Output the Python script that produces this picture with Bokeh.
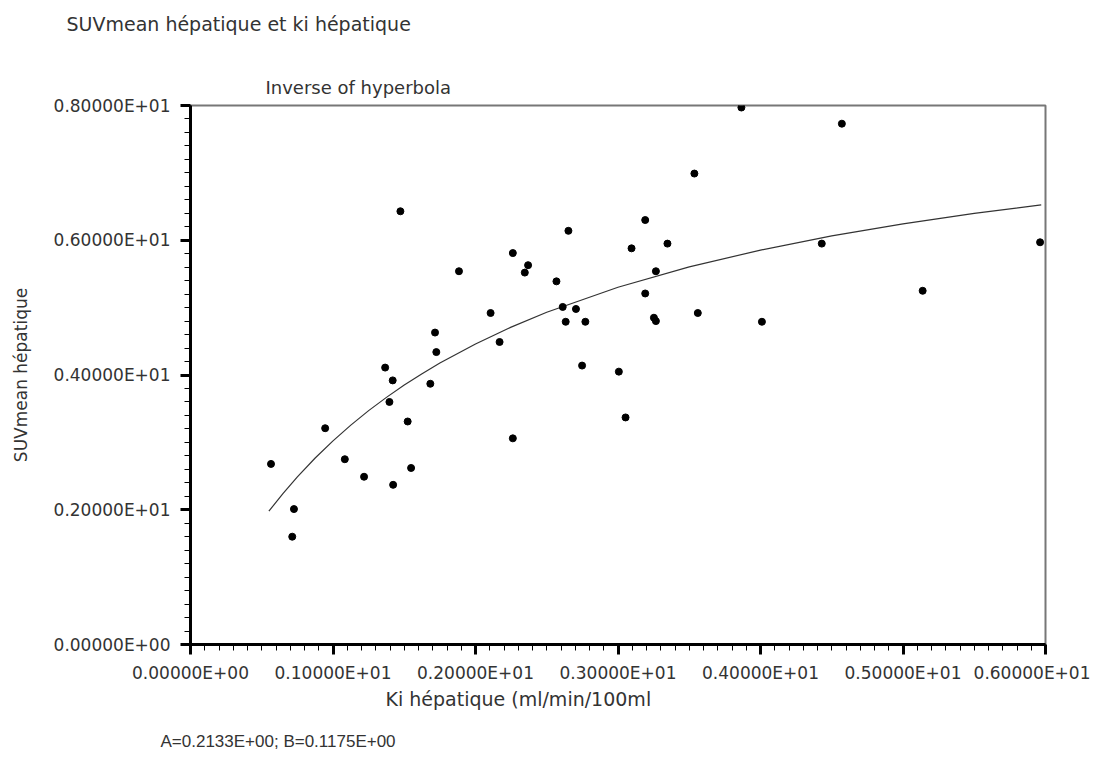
from bokeh.plotting import figure
from bokeh.models import Title, FixedTicker, Range1d
from bokeh.embed import file_html
from bokeh.resources import INLINE

# ---- data ----
ki = [1.473, 2.652, 2.262, 2.369, 2.346, 1.884, 2.568, 2.612, 2.705, 2.633,
      2.771, 2.106, 1.716, 2.169, 1.725, 1.366, 1.419, 1.683, 2.748, 3.006,
      3.866, 4.571, 3.536, 3.191, 3.095, 3.347, 3.266, 3.191, 3.252, 3.266,
      3.560, 4.010, 4.430, 5.138, 5.962, 1.396, 1.524, 0.945, 0.565, 1.083,
      1.218, 1.548, 1.422, 0.726, 0.714, 2.262, 3.053]
suv = [6.43, 6.14, 5.81, 5.63, 5.52, 5.54, 5.39, 5.01, 4.98, 4.79,
       4.79, 4.92, 4.63, 4.49, 4.34, 4.11, 3.92, 3.87, 4.14, 4.05,
       7.97, 7.73, 6.99, 6.30, 5.88, 5.95, 5.54, 5.21, 4.85, 4.80,
       4.92, 4.79, 5.95, 5.25, 5.97, 3.60, 3.31, 3.21, 2.68, 2.75,
       2.49, 2.62, 2.37, 2.01, 1.60, 3.06, 3.37]

# fitted curve ("Inverse of hyperbola", A=0.2133, B=0.1175)
fit_x = [0.55, 0.65, 0.75, 0.875, 1.0, 1.125, 1.25, 1.375, 1.5, 1.625, 1.75,
         2.0, 2.25, 2.5, 3.0, 3.5, 4.0, 4.5, 5.0, 5.5, 5.97]
fit_y = [1.979, 2.244, 2.488, 2.768, 3.023, 3.256, 3.471, 3.668, 3.851, 4.020, 4.177,
         4.461, 4.710, 4.931, 5.302, 5.604, 5.854, 6.064, 6.244, 6.399, 6.526]

x_ticks = [0, 1, 2, 3, 4, 5, 6]
x_tick_labels = ["0.00000E+00", "0.10000E+01", "0.20000E+01", "0.30000E+01",
                 "0.40000E+01", "0.50000E+01", "0.60000E+01"]
y_ticks = [0, 2, 4, 6, 8]
y_tick_labels = ["0.00000E+00", "0.20000E+01", "0.40000E+01", "0.60000E+01",
                 "0.80000E+01"]
x_minor = [i / 10 for i in range(0, 61)]
y_minor = [i / 5 for i in range(0, 41)]

title_text = "SUVmean hépatique et ki hépatique"
subtitle_text = "Inverse of hyperbola"
x_label_text = "Ki hépatique (ml/min/100ml"
y_label_text = "SUVmean hépatique"
params_text = "A=0.2133E+00;  B=0.1175E+00"

TXT = "#333333"
FONT = "DejaVu Sans"

p = figure(width=1090, height=770, output_backend="svg", toolbar_location=None,
           x_range=Range1d(0, 6), y_range=Range1d(0, 8),
           min_border_left=190, min_border_right=45, min_border_top=105,
           min_border_bottom=125)
p.background_fill_color = "white"
p.border_fill_color = "white"
p.grid.visible = False
p.outline_line_color = "#777777"
p.outline_line_width = 2

for ax in (p.xaxis[0], p.yaxis[0]):
    ax.axis_line_color = "black"
    ax.axis_line_width = 3
    ax.major_tick_line_color = "black"
    ax.major_tick_line_width = 3
    ax.minor_tick_line_color = "black"
    ax.minor_tick_line_width = 1
    ax.major_tick_in = 0
    ax.major_tick_out = 10
    ax.minor_tick_in = 0
    ax.minor_tick_out = 6
    ax.major_label_text_font = FONT
    ax.major_label_text_font_size = "17px"
    ax.major_label_text_color = TXT

p.xaxis[0].ticker = FixedTicker(ticks=x_ticks, minor_ticks=x_minor)
p.xaxis[0].major_label_overrides = {t: s for t, s in zip(x_ticks, x_tick_labels)}
p.xaxis[0].major_label_standoff = 8

p.yaxis[0].ticker = FixedTicker(ticks=y_ticks, minor_ticks=y_minor)
p.yaxis[0].major_label_overrides = {t: s for t, s in zip(y_ticks, y_tick_labels)}
p.yaxis[0].major_label_orientation = "horizontal"
p.yaxis[0].major_label_standoff = 10
p.yaxis[0].axis_label = y_label_text
p.yaxis[0].axis_label_text_font = FONT
p.yaxis[0].axis_label_text_font_size = "17px"
p.yaxis[0].axis_label_text_font_style = "normal"
p.yaxis[0].axis_label_text_color = TXT
p.yaxis[0].axis_label_standoff = 20

p.line(fit_x, fit_y, line_color="#333333", line_width=1.2)
p.scatter(ki, suv, size=7, fill_color="black", line_color="black")


def make_title(text, size, offset, standoff, valign, font=FONT):
    return Title(text=text, align="left", offset=offset, standoff=standoff,
                 vertical_align=valign, text_font=font, text_font_size=size,
                 text_font_style="normal", text_color=TXT)


# above the frame: nearest first
p.add_layout(make_title(subtitle_text, "18px", 75, 15, "bottom"), "above")
p.add_layout(make_title(" ", "10px", 0, 10, "bottom"), "above")
p.add_layout(make_title(title_text, "19px", -124, 16, "top"), "above")
# below the axis: nearest first
p.add_layout(make_title(x_label_text, "19px", 195, 4, "top"), "below")
p.add_layout(make_title(params_text, "17px", -30, 36, "top", "Liberation Sans"), "below")

open("out.html", "w").write(file_html(p, INLINE))
